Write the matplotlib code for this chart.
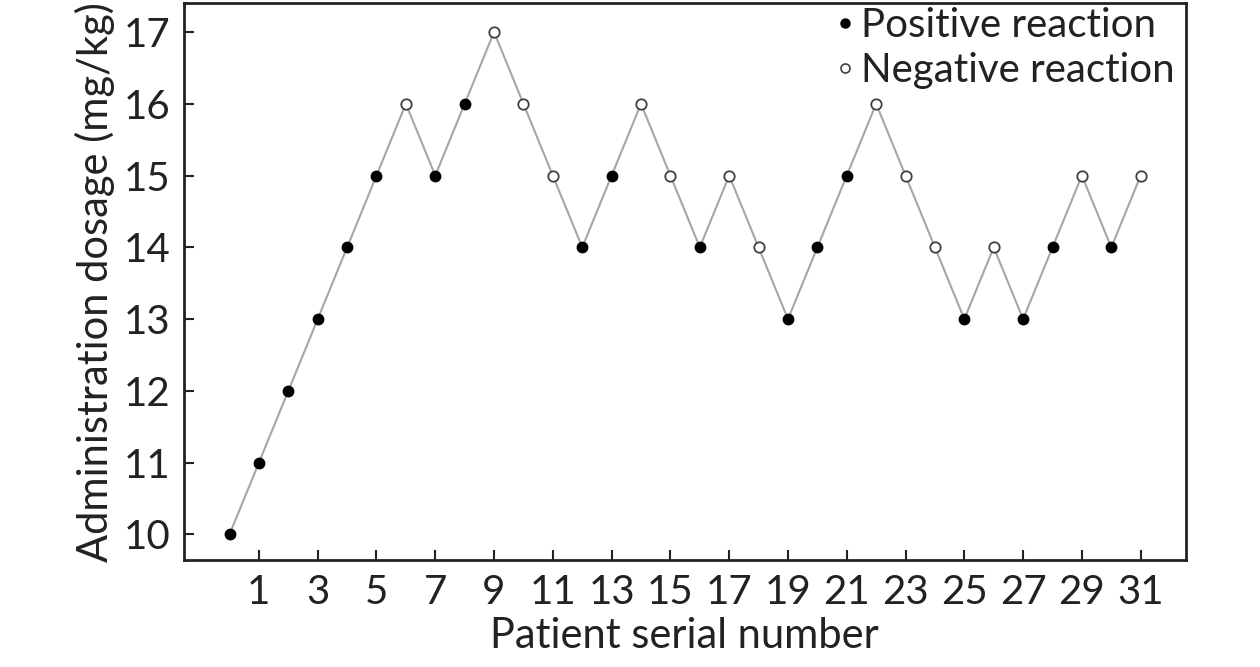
import matplotlib
matplotlib.use("Agg")
import matplotlib.pyplot as plt
from matplotlib.lines import Line2D

plt.rcParams['font.family'] = ['Lato', 'DejaVu Sans']

# patient order, dosage given, and whether the reaction was positive
patients = list(range(0, 32))
dosage = [10, 11, 12, 13, 14, 15, 16, 15, 16, 17, 16, 15, 14, 15, 16, 15,
          14, 15, 14, 13, 14, 15, 16, 15, 14, 13, 14, 13, 14, 15, 14, 15]
positive = [1, 1, 1, 1, 1, 1, 0, 1, 1, 0, 0, 0, 1, 1, 0, 0,
            1, 0, 0, 1, 1, 1, 0, 0, 0, 1, 0, 1, 1, 0, 1, 0]

xticks = list(range(1, 32, 2))
yticks = list(range(10, 18))

fig = plt.figure(figsize=(12.6, 6.67), dpi=100)
ax = fig.add_axes([0.146, 0.160, 0.795, 0.835])

ax.plot(patients, dosage, color="#a6a6a6", lw=1.5, zorder=1)

px = [p for p, s in zip(patients, positive) if s]
py = [d for d, s in zip(dosage, positive) if s]
nx = [p for p, s in zip(patients, positive) if not s]
ny = [d for d, s in zip(dosage, positive) if not s]
ax.plot(px, py, ls="none", marker="o", ms=7.5, mfc="black", mec="black", zorder=2)
ax.plot(nx, ny, ls="none", marker="o", ms=7.5, mfc="white", mec="#404040",
        mew=1.3, zorder=2)

ax.set_xlim(-1.55, 32.53)
ax.set_ylim(9.64, 17.40)
ax.set_xticks(xticks)
ax.set_yticks(yticks)
ax.tick_params(direction="in", length=7, width=1.5, labelsize=29,
               colors="#222222", pad=10)
for sp in ax.spines.values():
    sp.set_linewidth(2)
    sp.set_color("#222222")

ax.set_xlabel("Patient serial number", fontsize=30, color="#222222", labelpad=4)
ax.set_ylabel("Administration dosage (mg/kg)", fontsize=30, color="#222222",
              labelpad=6)

handles = [
    Line2D([], [], ls="none", marker="o", ms=6.5, mfc="black", mec="black"),
    Line2D([], [], ls="none", marker="o", ms=6.5, mfc="white", mec="#404040", mew=1.2),
]
ax.legend(handles, ["Positive reaction", "Negative reaction"], loc="upper right",
          bbox_to_anchor=(0.993, 1.0), frameon=False, fontsize=29,
          handlelength=0.4, handletextpad=0.2, labelspacing=0.18,
          borderaxespad=0, borderpad=0.1, labelcolor="#222222")

fig.savefig("out.png", dpi=100)
